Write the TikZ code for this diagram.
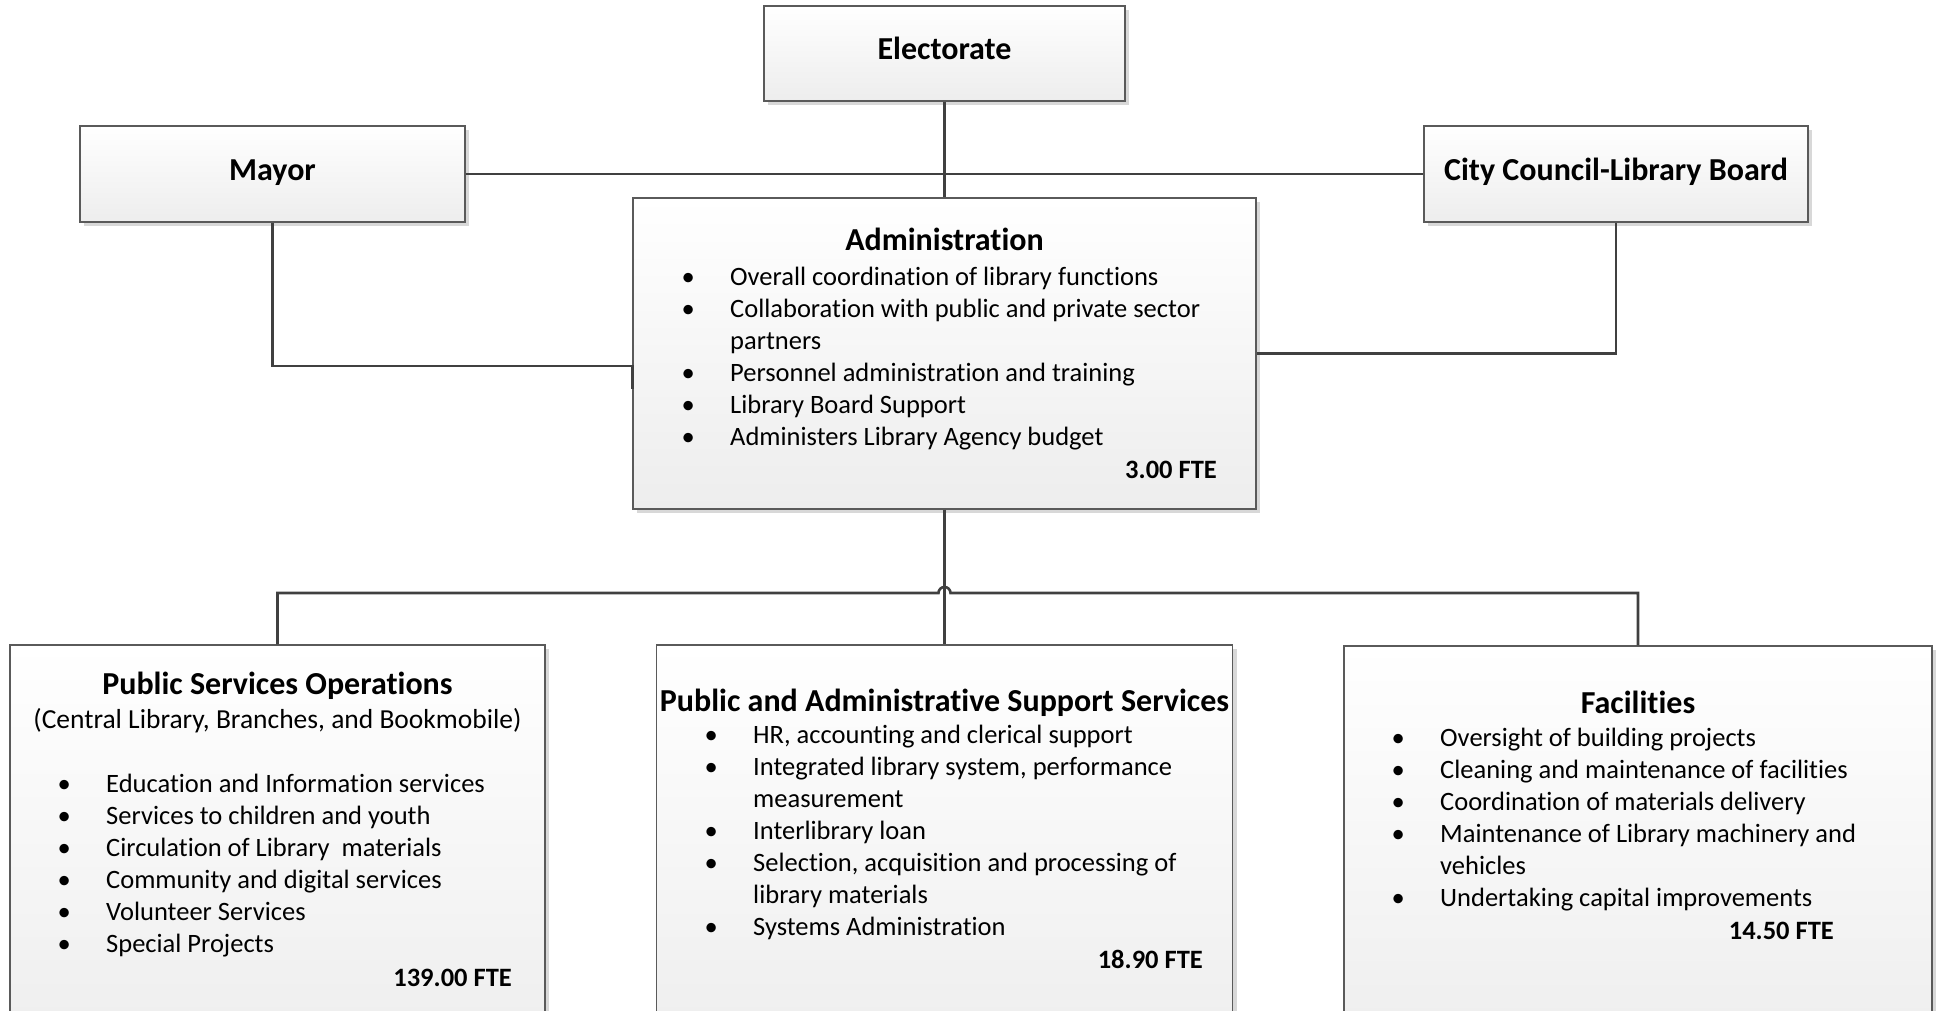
\documentclass[tikz,border=0pt]{standalone}
\usepackage{fontspec}
\setmainfont{Carlito}[Ligatures=NoCommon]
\usetikzlibrary{shadows}
\definecolor{boxline}{HTML}{5A5A5A}
\definecolor{boxgray}{HTML}{EDEDED}
\definecolor{shadowgray}{HTML}{D8D8D8}
\definecolor{linkgray}{HTML}{404040}
% one bullet line, and the wrapped rest of one
\newcommand{\itm}[1]{\strut\makebox[0pt]{\textbullet}\hspace{42pt}#1}
\newcommand{\cnt}[1]{\strut\hspace*{42pt}#1}
\tikzset{
  unit/.style={draw=boxline, line width=1.3pt, top color=white, bottom color=boxgray,
    drop shadow={shadow xshift=4pt, shadow yshift=-4pt, fill=shadowgray, opacity=1}, inner sep=0pt},
  plate/.style={unit, font=\fontsize{32}{36}\selectfont\bfseries, text height=22pt, text depth=9.4pt},
  head/.style={font=\fontsize{32}{36}\selectfont\bfseries, inner sep=0pt, anchor=base},
  sub/.style={font=\fontsize{27.5}{32}\selectfont, inner sep=0pt, anchor=base},
  duties/.style={font=\fontsize{26.5}{32}\selectfont, align=left, inner sep=0pt, anchor=north west},
  fte/.style={font=\fontsize{26.5}{32}\selectfont\bfseries, inner sep=0pt, anchor=base east},
  link/.style={draw=linkgray, line width=2.6pt},
}
\begin{document}
\begin{tikzpicture}[x=1pt,y=-1pt]
\useasboundingbox (0,0) rectangle (1938,1011);
\clip (0,0) rectangle (1938,1011);

% top row
\node[plate, minimum width=361pt, minimum height=95pt] (elect) at (944.5,53.5) {Electorate};
\node[plate, minimum width=385pt, minimum height=96pt] (mayor) at (272.5,174) {Mayor};
\node[plate, minimum width=384pt, minimum height=96pt] (council) at (1616,174) {City Council-Library Board};

% administration
\node[unit, minimum width=623pt, minimum height=311pt] (admin) at (944.5,353.5) {};
\node[head] (admintitle) at (944.5,251) {Administration};
\node[duties] (adminlist) at (688,263.1) {\itm{Overall coordination of library functions}\\
  \itm{Collaboration with public and private sector}\\ \cnt{partners}\\
  \itm{Personnel administration and training}\\ \itm{Library Board Support}\\
  \itm{Administers Library Agency budget}};
\node[fte] (adminfte) at (1217,478.5) {3.00 FTE};

% divisions
\node[unit, minimum width=535pt, minimum height=420pt] (pso) at (277.5,855) {};
\node[head] (psotitle) at (277.5,694) {Public Services Operations};
\node[sub] (psosub) at (277.5,728) {(Central Library, Branches, and Bookmobile)};
\node[duties] (psolist) at (64,770.1) {\itm{Education and Information services}\\
  \itm{Services to children and youth}\\ \itm{Circulation of Library\ \ materials}\\
  \itm{Community and digital services}\\ \itm{Volunteer Services}\\ \itm{Special Projects}};
\node[fte] (psofte) at (512,986.5) {139.00 FTE};

\node[unit, minimum width=576pt, minimum height=420pt] (pass) at (944.5,855) {};
\node[head] (passtitle) at (944.5,711) {Public and Administrative Support Services};
\node[duties] (passlist) at (711,721.1) {\itm{HR, accounting and clerical support}\\
  \itm{Integrated library system, performance}\\ \cnt{measurement}\\
  \itm{Interlibrary loan}\\ \itm{Selection, acquisition and processing of}\\
  \cnt{library materials}\\ \itm{Systems Administration}};
\node[fte] (passfte) at (1203,968.5) {18.90 FTE};

\node[unit, minimum width=588pt, minimum height=420pt] (fac) at (1638,856) {};
\node[head] (factitle) at (1638,713) {Facilities};
\node[duties] (faclist) at (1398,724.1) {\itm{Oversight of building projects}\\
  \itm{Cleaning and maintenance of facilities}\\ \itm{Coordination of materials delivery}\\
  \itm{Maintenance of Library machinery and}\\ \cnt{vehicles}\\
  \itm{Undertaking capital improvements}};
\node[fte] (facfte) at (1834,939.5) {14.50 FTE};

% connectors
\draw[link] (elect.south) -- (admin.north);
\draw[link] (mayor.east) -- (council.west);
\draw[link] (mayor.south) |- ([yshift=-12.5pt]admin.west) -- ++(0,23);
\draw[link] (council.south) |- (admin.east);
\coordinate (bus) at (944.5,593);
\draw[link] (admin.south) -- (pass.north);
\draw[link] (pso.north) |- ([xshift=-6pt]bus) arc[start angle=180, end angle=0, radius=6pt] -| (fac.north);
\end{tikzpicture}
\end{document}
